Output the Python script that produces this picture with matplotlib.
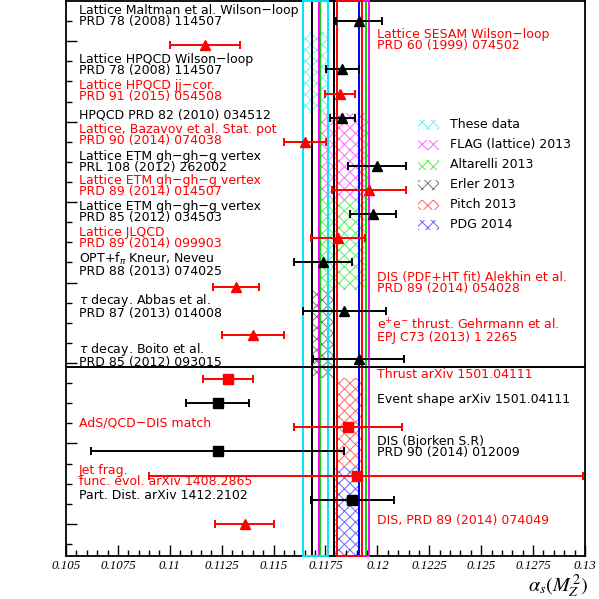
import matplotlib
matplotlib.use('Agg')
import matplotlib.pyplot as plt
from matplotlib.patches import Rectangle
from matplotlib.ticker import FixedLocator, FuncFormatter
import numpy as np

plt.rcParams['hatch.linewidth'] = 0.7
plt.rcParams['mathtext.fontset'] = 'stix'
plt.rcParams['font.family'] = ['DejaVu Sans']

# ---------------- data ----------------
alpha = [0.1191, 0.1117, 0.1183, 0.1182, 0.1183, 0.1165, 0.1200, 0.1196,
         0.1198, 0.1181, 0.1174, 0.1132, 0.1184, 0.1140, 0.1191,
         0.1128, 0.1123, 0.1186, 0.1123, 0.1190, 0.1188, 0.1136]
err_lo = [0.0011, 0.0017, 0.0008, 0.0007, 0.0006, 0.0010, 0.0014, 0.0018,
          0.0011, 0.0013, 0.0014, 0.0011, 0.0020, 0.0015, 0.0022,
          0.0012, 0.0015, 0.0026, 0.0061, 0.0100, 0.0020, 0.0014]
err_hi = [0.0011, 0.0017, 0.0008, 0.0007, 0.0006, 0.0010, 0.0014, 0.0018,
          0.0011, 0.0013, 0.0014, 0.0011, 0.0020, 0.0015, 0.0022,
          0.0012, 0.0015, 0.0026, 0.0061, 0.0109, 0.0020, 0.0014]
row = [26.0, 24.8, 23.6, 22.4, 21.2, 20.0, 18.8, 17.6, 16.4, 15.2, 14.0,
       12.8, 11.6, 10.4, 9.2, 8.2, 7.0, 5.8, 4.6, 3.4, 2.2, 1.0]
colors = ['k', 'r', 'k', 'r', 'k', 'r', 'k', 'r', 'k', 'r', 'k', 'r', 'k',
          'r', 'k', 'r', 'k', 'r', 'k', 'r', 'k', 'r']
markers = ['^'] * 15 + ['s'] * 6 + ['^']

band_names = ['These data', 'FLAG (lattice) 2013', 'Altarelli 2013',
              'Erler 2013', 'Pitch 2013', 'PDG 2014']
band_center = [0.1170, 0.1184, 0.11834, 0.11738, 0.11864, 0.1185]
band_half = [0.0006, 0.0012, 0.0011, 0.00055, 0.0006, 0.0006]
band_line = ['#00e5ff', '#ff00ff', '#00dd00', '#000000', '#ff0000', '#0000ff']
band_hatch = ['#66f0ff', '#ff66ff', '#55ee55', '#777777', '#ff6666', '#6666ff']
band_y = [(21.44, 25.47), (17.11, 21.44), (12.63, 17.11), (8.26, 12.63),
          (3.83, 8.26), (-0.6, 3.83)]

xticks_major = [0.105, 0.1075, 0.11, 0.1125, 0.115, 0.1175, 0.12, 0.1225,
                0.125, 0.1275, 0.13]

XMIN, XMAX = 0.105, 0.13
YMIN, YMAX = -0.6, 27.0

# ---------------- layout helpers (pixel -> data) ----------------
def xd(px):
    return XMIN + (px - 66) / 519.0 * (XMAX - XMIN)

def yd(py):
    return (556 - py) / 20.1 - 0.6

fig = plt.figure(figsize=(5.99, 5.99), dpi=100)
ax = fig.add_axes([66 / 599, 43 / 599, 519 / 599, 555 / 599])
ax.set_xlim(XMIN, XMAX)
ax.set_ylim(YMIN, YMAX)

# bands: full-height outline + hatched part
for c, h, lc, hc, (y0, y1) in zip(band_center, band_half, band_line,
                                  band_hatch, band_y):
    ax.add_patch(Rectangle((c - h, y0), 2 * h, y1 - y0, fill=False,
                           edgecolor=hc, hatch='xxx', lw=0, zorder=1))
order = [2, 1, 5, 4, 3, 0]
for i in order:
    c, h, lc = band_center[i], band_half[i], band_line[i]
    ax.add_patch(Rectangle((c - h, YMIN), 2 * h, YMAX - YMIN, fill=False,
                           edgecolor=lc, lw=1.4, zorder=3, clip_on=False))

ax.axhline(8.8, color='k', lw=1.4, zorder=4)

for a, lo, hi, r, c, m in zip(alpha, err_lo, err_hi, row, colors, markers):
    ax.errorbar([a], [r], xerr=[[lo], [hi]], fmt=m, color=c,
                ms=7.5 if m == '^' else 7,
                elinewidth=1.4, capsize=2.6, capthick=1.4, zorder=6)

# ---------------- texts ----------------
FS = 9
LS = 0.84
left_texts = [
    ("Lattice Maltman et al. Wilson\u2212loop\nPRD 78 (2008) 114507", 16.5, 'k'),
    ("Lattice HPQCD Wilson\u2212loop\nPRD 78 (2008) 114507", 65, 'k'),
    ("Lattice HPQCD jj\u2212cor.\nPRD 91 (2015) 054508", 91, 'r'),
    ("HPQCD PRD 82 (2010) 034512", 115, 'k'),
    ("Lattice, Bazavov et al. Stat. pot\nPRD 90 (2014) 074038", 135, 'r'),
    ("Lattice ETM gh\u2212gh\u2212g vertex\nPRL 108 (2012) 262002", 162, 'k'),
    ("Lattice ETM gh\u2212gh\u2212g vertex\nPRD 89 (2014) 014507", 186, 'r'),
    ("Lattice ETM gh\u2212gh\u2212g vertex\nPRD 85 (2012) 034503", 212, 'k'),
    ("Lattice JLQCD\nPRD 89 (2014) 099903", 238, 'r'),
    ("OPT+f$_{\\pi}$ Kneur, Neveu\nPRD 88 (2013) 074025", 264.5, 'k'),
    ("$\\tau$ decay. Abbas et al.\nPRD 87 (2013) 014008", 306, 'k'),
    ("$\\tau$ decay. Boito et al.\nPRD 85 (2012) 093015", 355, 'k'),
    ("AdS/QCD\u2212DIS match", 423.5, 'r'),
    ("Jet frag.\nfunc. evol. arXiv 1408.2865", 476, 'r'),
    ("Part. Dist. arXiv 1412.2102", 496, 'k'),
]
for t, py, c in left_texts:
    ax.text(xd(79), yd(py), t, color=c, fontsize=FS, va='center', ha='left',
            linespacing=LS, zorder=7, math_fontfamily='dejavusans')

right_texts = [
    ("Lattice SESAM Wilson\u2212loop\nPRD 60 (1999) 074502", 40.5, 'r'),
    ("DIS (PDF+HT fit) Alekhin et al.\nPRD 89 (2014) 054028", 283, 'r'),
    ("e$^{+}$e$^{-}$ thrust. Gehrmann et al.\nEPJ C73 (2013) 1 2265", 331, 'r'),
    ("Thrust arXiv 1501.04111", 375, 'r'),
    ("Event shape arXiv 1501.04111", 400, 'k'),
    ("DIS (Bjorken S.R)\nPRD 90 (2014) 012009", 447, 'k'),
    ("DIS, PRD 89 (2014) 074049", 521, 'r'),
]
for t, py, c in right_texts:
    ax.text(xd(377), yd(py), t, color=c, fontsize=FS, va='center', ha='left',
            linespacing=LS, zorder=7, math_fontfamily='dejavusans')

# legend (manual)
for k, (name, hc) in enumerate(zip(band_names, band_hatch)):
    py = 125 + 20 * k
    ax.add_patch(Rectangle((xd(418), yd(py + 5)), xd(439) - xd(418),
                           yd(py - 5) - yd(py + 5), fill=False, edgecolor=hc,
                           hatch='xxx', lw=0, zorder=2))
    ax.text(xd(450), yd(py), name, color='k', fontsize=FS, va='center',
            ha='left', zorder=7)

# ---------------- axes styling ----------------
for s in ax.spines.values():
    s.set_linewidth(1.3)
    s.set_zorder(2.5)

ax.xaxis.set_major_locator(FixedLocator(xticks_major))
ax.xaxis.set_minor_locator(FixedLocator(np.arange(0.105, 0.13001, 0.0005)))
ax.xaxis.set_major_formatter(FuncFormatter(lambda v, p: '%g' % round(v, 5)))
ax.yaxis.set_major_locator(FixedLocator(np.arange(1, 27, 4)))
ax.yaxis.set_minor_locator(FixedLocator(np.arange(0, 27, 1)))
ax.yaxis.set_major_formatter(FuncFormatter(lambda v, p: ''))
ax.tick_params(axis='both', which='both', direction='in', top=False,
               right=False, width=1.0)
ax.tick_params(axis='both', which='major', length=8)
ax.tick_params(axis='both', which='minor', length=4)
ax.tick_params(axis='x', which='major', pad=3)
for lab in ax.get_xticklabels():
    lab.set_fontfamily('Liberation Serif')
    lab.set_fontstyle('italic')
    lab.set_fontsize(9.3)

fig.text(588 / 599, 1 - 586 / 599, r'$\alpha_s(M_Z^{\,2})$', ha='right',
         va='center', fontsize=14.5)

fig.savefig('out.png', dpi=100)
